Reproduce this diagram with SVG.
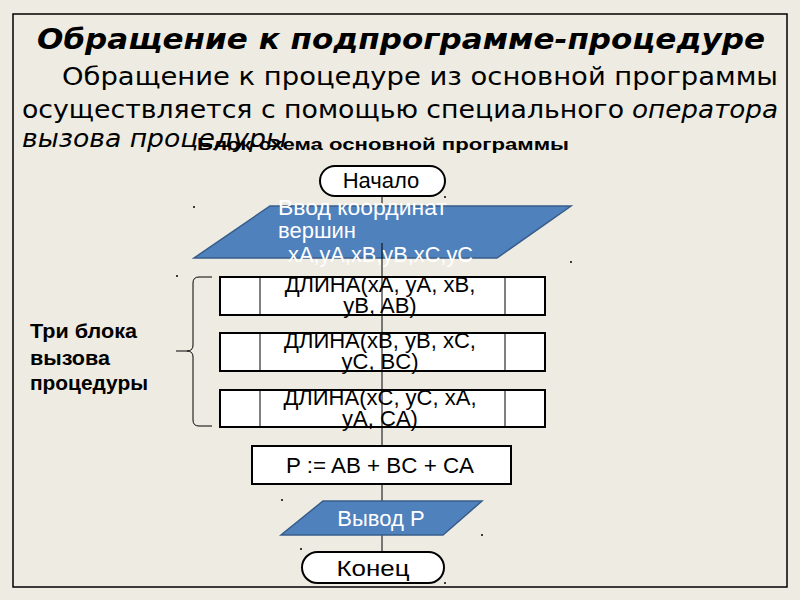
<svg xmlns="http://www.w3.org/2000/svg" width="800" height="600" viewBox="0 0 800 600">
<style>
.frame{fill:none;stroke:#000;stroke-width:1.5}
.ln{stroke:#000;stroke-width:1;fill:none}
.box{fill:#fff;stroke:#000;stroke-width:2}
.term{fill:#fff;stroke:#000;stroke-width:2}
.blue{fill:#4F81BD;stroke:#385D8A;stroke-width:1.5}
.ft{font-family:"Liberation Sans",Arial,sans-serif;font-size:22px;fill:#000;text-anchor:middle}
.wt{font-family:"Liberation Sans",Arial,sans-serif;font-size:22px;fill:#fff}
.para{font-family:"DejaVu Sans Condensed","DejaVu Sans",sans-serif;font-size:25px;fill:#000;font-stretch:condensed}
.lbl{font-family:"Liberation Sans",Arial,sans-serif;font-size:21px;font-weight:bold;fill:#000}
.dot{fill:#000}
</style>
<rect width="800" height="600" fill="#EDEBE2"/>
<rect class="frame" x="13" y="14" width="774" height="573"/>
<g id="title">
<text x="401" y="49" text-anchor="middle" font-family="DejaVu Sans, Verdana, sans-serif" font-size="28" font-weight="bold" font-style="italic" textLength="728" lengthAdjust="spacingAndGlyphs">Обращение к подпрограмме-процедуре</text>
</g>
<g id="paragraph">
<text class="para" x="62" y="85" textLength="716" lengthAdjust="spacingAndGlyphs">Обращение к процедуре из основной программы</text>
<text class="para" x="22" y="118" textLength="602" lengthAdjust="spacingAndGlyphs">осуществляется с помощью специального</text>
<text class="para" x="632" y="118" font-style="italic" textLength="146" lengthAdjust="spacingAndGlyphs">оператора</text>
<text class="para" x="22" y="147" font-style="italic" fill="#222" textLength="265" lengthAdjust="spacingAndGlyphs">вызова процедуры</text>
</g>
<g id="subtitle">
<text x="197" y="150" font-family="Liberation Sans, Arial, sans-serif" font-size="17" font-weight="bold" textLength="372" lengthAdjust="spacingAndGlyphs">Блок-схема основной программы</text>
</g>
<g id="connectors">
<line class="ln" x1="382" y1="196" x2="382" y2="206"/>
<line class="ln" x1="382" y1="484" x2="382" y2="501"/>
<line class="ln" x1="382" y1="535" x2="382" y2="551"/>
</g>
<g id="start">
<rect class="term" x="320" y="166" width="125" height="30" rx="15" ry="15"/>
<text class="ft" x="381" y="188">Начало</text>
</g>
<g id="input">
<polygon class="blue" points="270,206 571,206 497,258 194,258"/>
<text class="wt" x="278" y="215" textLength="169" lengthAdjust="spacingAndGlyphs">Ввод координат</text>
<text class="wt" x="278" y="238">вершин</text>
<text class="wt" x="288" y="262" textLength="185" lengthAdjust="spacingAndGlyphs">xA,yA,xB,yB,xC,yC</text>
<line class="ln" x1="382" y1="243" x2="382" y2="277"/>
</g>
<g id="brace">
<path class="ln" stroke-width="2" d="M212,277 H199 Q193,277 193,283 V345 Q193,351 187,351 H176 M187,351 Q193,351 193,357 V420 Q193,426 199,426 H212"/>
</g>
<g id="label">
<text class="lbl" x="30" y="338" textLength="107" lengthAdjust="spacingAndGlyphs">Три блока</text>
<text class="lbl" x="30" y="365" textLength="80" lengthAdjust="spacingAndGlyphs">вызова</text>
<text class="lbl" x="30" y="390" textLength="118" lengthAdjust="spacingAndGlyphs">процедуры</text>
</g>
<g id="call1">
<rect class="box" x="220" y="277" width="325" height="38"/>
<line class="ln" stroke-width="2" x1="260" y1="277" x2="260" y2="315"/>
<line class="ln" stroke-width="2" x1="505" y1="277" x2="505" y2="315"/>
<text class="ft" x="380" y="292">ДЛИНА(xA, yA, xB,</text>
<text class="ft" x="380" y="313">yB, AB)</text>
</g>
<g id="call2">
<rect class="box" x="220" y="333" width="325" height="38"/>
<line class="ln" stroke-width="2" x1="260" y1="333" x2="260" y2="371"/>
<line class="ln" stroke-width="2" x1="505" y1="333" x2="505" y2="371"/>
<text class="ft" x="380" y="348">ДЛИНА(xB, yB, xC,</text>
<text class="ft" x="380" y="369">yC, BC)</text>
</g>
<g id="call3">
<rect class="box" x="220" y="390" width="325" height="37"/>
<line class="ln" stroke-width="2" x1="260" y1="390" x2="260" y2="427"/>
<line class="ln" stroke-width="2" x1="505" y1="390" x2="505" y2="427"/>
<text class="ft" x="380" y="405">ДЛИНА(xC, yC, xA,</text>
<text class="ft" x="380" y="426">yA, CA)</text>
</g>
<g id="through">
<line class="ln" x1="382" y1="277" x2="382" y2="446"/>
</g>
<g id="calc">
<rect class="box" x="252" y="446" width="259" height="38"/>
<text class="ft" x="380" y="473" textLength="188" lengthAdjust="spacingAndGlyphs">P := AB + BC + CA</text>
</g>
<g id="output">
<polygon class="blue" points="323,501 482,501 443,535 281,535"/>
<text class="wt" x="381" y="526" text-anchor="middle">Вывод P</text>
</g>
<g id="end">
<rect class="term" x="302" y="552" width="142" height="31" rx="15.5" ry="15.5"/>
<text class="ft" x="373" y="576" textLength="73" lengthAdjust="spacingAndGlyphs">Конец</text>
</g>
<g id="dots">
<circle class="dot" cx="194" cy="207" r="1"/>
<circle class="dot" cx="571" cy="262" r="1"/>
<circle class="dot" cx="177" cy="276" r="1"/>
<circle class="dot" cx="445" cy="197" r="1"/>
<circle class="dot" cx="282" cy="500" r="1"/>
<circle class="dot" cx="482" cy="535" r="1"/>
<circle class="dot" cx="301" cy="549" r="1"/>
<circle class="dot" cx="445" cy="583" r="1"/>
</g>
</svg>
